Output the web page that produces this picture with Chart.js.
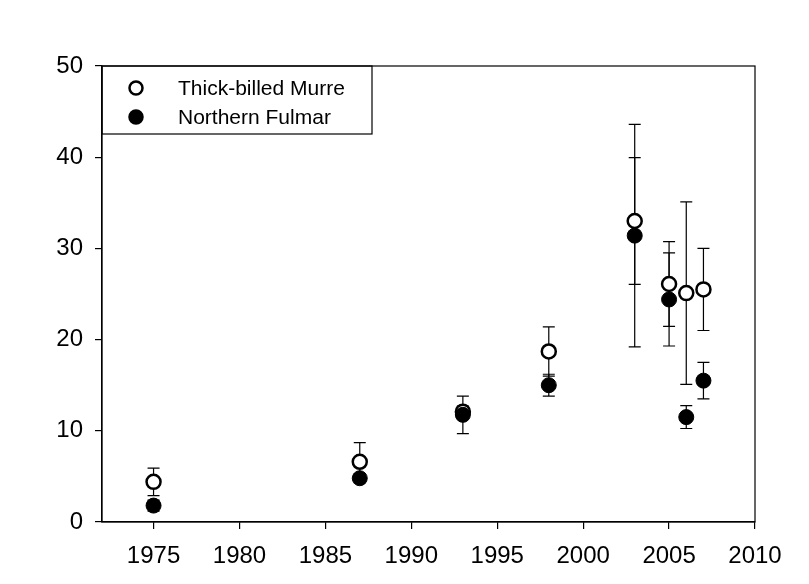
<!DOCTYPE html>
<html>
<head>
<meta charset="utf-8">
<script src="https://cdn.jsdelivr.net/npm/chart.js@4/dist/chart.umd.min.js"></script>
<style>
  html, body { margin: 0; padding: 0; background: #fff; }
  #wrap { width: 809px; height: 584px; }
</style>
</head>
<body>
<div id="wrap"><canvas id="c" width="809" height="584"></canvas></div>
<script>
var years = [1975, 1987, 1993, 1998, 2003, 2005, 2006, 2007];
var murre = [4.4, 6.6, 12.1, 18.7, 33.0, 26.1, 25.1, 25.5];
var murreErr = [1.5, 2.1, 0.6, 2.7, 6.95, 4.65, 10.0, 4.5];
var fulmar = [1.8, 4.8, 11.75, 15.0, 31.4, 24.4, 11.5, 15.5];
var fulmarErr = [0.6, 0.5, 2.05, 1.2, 12.2, 5.1, 1.25, 2.0];
var xTicks = [1975, 1980, 1985, 1990, 1995, 2000, 2005, 2010];
var yTicks = [0, 10, 20, 30, 40, 50];

function pts(vals, errs) {
  return years.map(function (y, i) { return { x: y, y: vals[i], err: errs[i] }; });
}

var FONT = '"Liberation Sans", Arial, sans-serif';

// error bars, drawn before the markers so the open circles cover them
var errorBars = {
  id: 'errorBars',
  beforeDatasetsDraw: function (chart) {
    var c = chart.ctx, xs = chart.scales.x, ys = chart.scales.y;
    c.save();
    c.strokeStyle = '#000';
    c.lineWidth = 1.2;
    chart.data.datasets.forEach(function (ds) {
      ds.data.forEach(function (p) {
        var px = xs.getPixelForValue(p.x);
        var top = ys.getPixelForValue(p.y + p.err);
        var bot = ys.getPixelForValue(p.y - p.err);
        c.beginPath();
        c.moveTo(px, top); c.lineTo(px, bot);
        c.moveTo(px - 6, top); c.lineTo(px + 6, top);
        c.moveTo(px - 6, bot); c.lineTo(px + 6, bot);
        c.stroke();
      });
    });
    c.restore();
  }
};

// full frame round the plot plus the boxed legend
var frameAndLegend = {
  id: 'frameAndLegend',
  afterDraw: function (chart) {
    var c = chart.ctx, a = chart.chartArea;
    c.save();
    c.strokeStyle = '#000';
    c.lineWidth = 1.2;
    c.strokeRect(a.left, a.top, a.right - a.left, a.bottom - a.top);
    // legend box
    c.strokeRect(a.left, a.top, 270, 68);
    c.font = '21px ' + FONT;
    c.textBaseline = 'middle';
    chart.data.datasets.forEach(function (ds, i) {
      var cy = a.top + 22 + i * 29;
      c.beginPath();
      c.arc(a.left + 34, cy, 6.5, 0, Math.PI * 2);
      c.fillStyle = ds.backgroundColor;
      c.fill();
      c.lineWidth = 2.5;
      c.stroke();
      c.fillStyle = '#000';
      c.fillText(ds.label, a.left + 76, cy + 1);
    });
    c.restore();
  }
};

new Chart(document.getElementById('c'), {
  type: 'scatter',
  data: {
    datasets: [{
      label: 'Thick-billed Murre',
      data: pts(murre, murreErr),
      backgroundColor: '#fff',
      borderColor: '#000',
      borderWidth: 2.5,
      pointRadius: 7,
      order: 2,
    }, {
      label: 'Northern Fulmar',
      data: pts(fulmar, fulmarErr),
      backgroundColor: '#000',
      borderColor: '#000',
      borderWidth: 1,
      pointRadius: 7.5,
      order: 1,
    }],
  },
  options: {
    responsive: false,
    animation: false,
    layout: { padding: { left: 0, top: 66, right: 54, bottom: 0 } },
    plugins: { legend: { display: false }, tooltip: { enabled: false } },
    scales: {
      x: {
        type: 'linear',
        min: 1972,
        max: 2010,
        afterBuildTicks: function (s) { s.ticks = xTicks.map(function (v) { return { value: v }; }); },
        afterFit: function (s) { s.height = 62; },
        grid: { drawOnChartArea: false, drawTicks: true, tickLength: 7, color: '#000', lineWidth: 1.2 },
        border: { display: true, color: '#000', width: 1.2 },
        ticks: {
          color: '#000', font: { family: FONT, size: 24 }, padding: 13, maxRotation: 0,
          callback: function (v) { return String(v); },
        },
      },
      y: {
        min: 0,
        max: 50,
        afterBuildTicks: function (s) { s.ticks = yTicks.map(function (v) { return { value: v }; }); },
        afterFit: function (s) { s.width = 102; },
        grid: { drawOnChartArea: false, drawTicks: true, tickLength: 7, color: '#000', lineWidth: 1.2 },
        border: { display: true, color: '#000', width: 1.2 },
        ticks: {
          color: '#000', font: { family: FONT, size: 24 }, padding: 12,
          callback: function (v) { return String(v); },
        },
      },
    },
  },
  plugins: [errorBars, frameAndLegend],
});
</script>
</body>
</html>
